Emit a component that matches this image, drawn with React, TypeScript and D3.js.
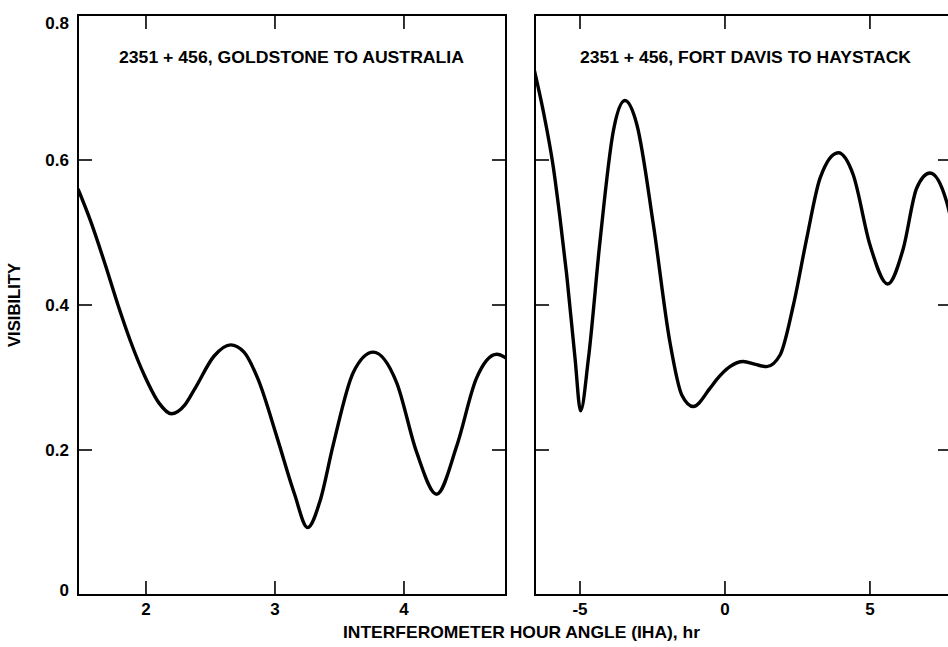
import React from "react";
import * as d3 from "d3";

const leftX = [1.473, 1.566, 1.68, 1.783, 1.88, 1.99, 2.1, 2.196, 2.3, 2.377, 2.53, 2.656, 2.76, 2.868, 3.02, 3.15, 3.253, 3.35, 3.45, 3.607, 3.762, 3.943, 4.098, 4.253, 4.41, 4.56, 4.72, 4.8];
const leftY = [0.56, 0.518, 0.458, 0.4, 0.35, 0.302, 0.265, 0.25, 0.262, 0.284, 0.33, 0.345, 0.335, 0.298, 0.215, 0.14, 0.093, 0.13, 0.206, 0.307, 0.335, 0.293, 0.197, 0.139, 0.206, 0.298, 0.332, 0.326];

const rightX = [-6.61, -6.27, -5.92, -5.69, -5.46, -5.17, -4.98, -4.71, -4.31, -3.85, -3.45, -3.04, -2.47, -1.9, -1.49, -1.09, -0.52, -0.29, 0.17, 0.63, 1.05, 1.44, 1.9, 2.36, 2.82, 3.28, 3.91, 4.42, 5.0, 5.61, 6.15, 6.61, 7.07, 7.64, 7.9];
const rightY = [0.73, 0.668, 0.59, 0.52, 0.442, 0.326, 0.254, 0.326, 0.488, 0.64, 0.682, 0.649, 0.511, 0.349, 0.276, 0.26, 0.285, 0.297, 0.315, 0.322, 0.318, 0.315, 0.331, 0.4, 0.492, 0.575, 0.61, 0.58, 0.483, 0.429, 0.478, 0.561, 0.582, 0.543, 0.5];

const leftTicks = [2, 3, 4];
const rightTicks = [-5, 0, 5];
const yTicks = [0, 0.2, 0.4, 0.6, 0.8];
const innerYTicks = [0.2, 0.4, 0.6];

const leftTitle = "2351 + 456, GOLDSTONE TO AUSTRALIA";
const rightTitle = "2351 + 456, FORT DAVIS TO HAYSTACK";
const yLabel = "VISIBILITY";
const xLabel = "INTERFEROMETER HOUR ANGLE (IHA), hr";

const TOP = 15;
const BOT = 595;
const TL = 14;
const FONT = "'Liberation Sans', Arial, Helvetica, sans-serif";

export default function App() {
  const y = d3.scaleLinear().domain([0, 0.8]).range([BOT, TOP]);
  const xl = d3.scaleLinear().domain([1.473, 4.791]).range([78, 506]);
  const xr = d3.scaleLinear().domain([-6.552, 7.83]).range([535, 952]);

  const mk = (xs: number[], ys: number[], xs_: d3.ScaleLinear<number, number>) =>
    d3
      .line<number>()
      .x((_, i) => xs_(xs[i]))
      .y((v) => y(v))
      .curve(d3.curveMonotoneX)(ys) || "";

  const panels = [
    { x: xl, xs: leftX, ys: leftY, ticks: leftTicks, title: leftTitle, id: "l", tx: 119, tw: 345 },
    { x: xr, xs: rightX, ys: rightY, ticks: rightTicks, title: rightTitle, id: "r", tx: 580, tw: 331 },
  ];

  return (
    <svg width={948} height={647} style={{ position: "absolute", left: 0, top: 0, background: "#fff" }}>
      <defs>
        {panels.map((p) => (
          <clipPath id={"clip-" + p.id} key={p.id}>
            <rect x={p.x.range()[0]} y={TOP} width={p.x.range()[1] - p.x.range()[0]} height={BOT - TOP} />
          </clipPath>
        ))}
      </defs>
      {panels.map((p) => {
        const [x0, x1] = p.x.range();
        return (
          <g key={p.id}>
            <rect x={x0} y={TOP} width={x1 - x0} height={BOT - TOP} fill="none" stroke="#000" strokeWidth={2} />
            {p.ticks.map((t) => (
              <g key={t}>
                <line x1={p.x(t)} x2={p.x(t)} y1={BOT} y2={BOT - TL} stroke="#000" strokeWidth={1.6} />
                <line x1={p.x(t)} x2={p.x(t)} y1={TOP} y2={TOP + TL} stroke="#000" strokeWidth={1.6} />
                <text x={p.x(t)} y={609} textAnchor="middle" dominantBaseline="central" fontFamily={FONT} fontWeight="bold" fontSize={17}>
                  {t < 0 ? "-" + Math.abs(t) : String(t)}
                </text>
              </g>
            ))}
            {innerYTicks.map((v) => (
              <g key={v}>
                <line x1={x0} x2={x0 + TL} y1={y(v)} y2={y(v)} stroke="#000" strokeWidth={1.6} />
                <line x1={x1} x2={x1 - TL} y1={y(v)} y2={y(v)} stroke="#000" strokeWidth={1.6} />
              </g>
            ))}
            <path d={mk(p.xs, p.ys, p.x)} fill="none" stroke="#000" strokeWidth={3.4} clipPath={`url(#clip-${p.id})`} strokeLinejoin="round" />
            <text
              x={p.tx}
              y={57}
              dominantBaseline="central"
              fontFamily={FONT}
              fontWeight="bold"
              fontSize={16}
              textLength={p.tw}
              lengthAdjust="spacingAndGlyphs"
            >
              {p.title}
            </text>
          </g>
        );
      })}
      {yTicks.map((v) => (
        <text
          key={v}
          x={69}
          y={v === 0.8 ? y(v) + 8 : v === 0 ? y(v) - 5 : y(v)}
          textAnchor="end"
          dominantBaseline="central"
          fontFamily={FONT}
          fontWeight="bold"
          fontSize={17}
        >
          {v === 0 ? "0" : v.toFixed(1)}
        </text>
      ))}
      <text
        transform="translate(14,305) rotate(-90)"
        textAnchor="middle"
        dominantBaseline="central"
        fontFamily={FONT}
        fontWeight="bold"
        fontSize={16}
        textLength={84}
        lengthAdjust="spacingAndGlyphs"
      >
        {yLabel}
      </text>
      <text
        x={521.5}
        y={632}
        textAnchor="middle"
        dominantBaseline="central"
        fontFamily={FONT}
        fontWeight="bold"
        fontSize={17}
        textLength={357}
        lengthAdjust="spacingAndGlyphs"
      >
        {xLabel}
      </text>
    </svg>
  );
}
